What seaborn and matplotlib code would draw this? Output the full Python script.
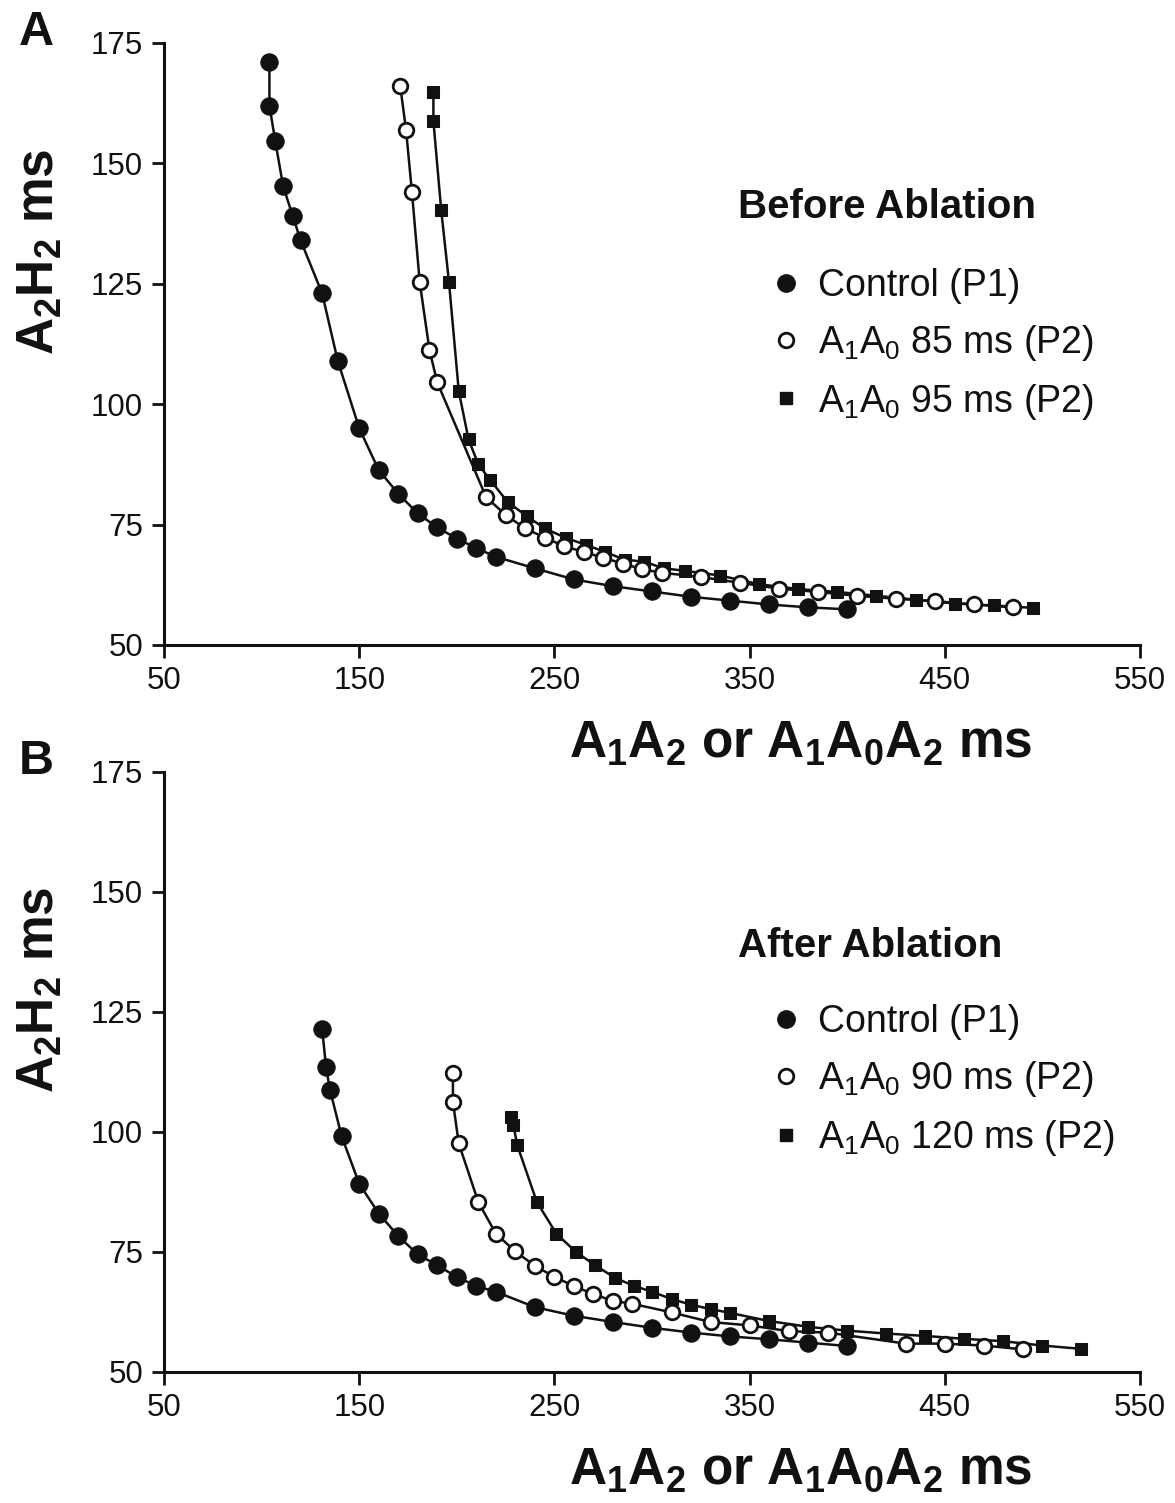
import matplotlib
matplotlib.use('Agg')
import matplotlib.pyplot as plt
import seaborn as sns
from matplotlib.lines import Line2D

# Panel A - before ablation
a_ctrl_x = [104, 104, 107, 111, 116, 120, 131, 139, 150, 160, 170, 180, 190, 200,
            210, 220, 240, 260, 280, 300, 320, 340, 360, 380, 400]
a_ctrl_y = [171.0, 162.0, 154.6, 145.3, 139.0, 134.0, 123.0, 109.0, 95.0, 86.3, 81.4,
            77.3, 74.4, 72.1, 70.1, 68.3, 65.9, 63.6, 62.2, 61.1, 60.0, 59.2, 58.4, 57.8, 57.4]
a_85_x = [171, 174, 177, 181, 186, 190, 215, 225, 235, 245, 255, 265, 275, 285, 295,
          305, 325, 345, 365, 385, 405, 425, 445, 465, 485]
a_85_y = [166.1, 156.9, 144.1, 125.3, 111.2, 104.5, 80.7, 77.0, 74.2, 72.3, 70.5, 69.3,
          68.1, 66.9, 65.7, 65.0, 64.1, 62.9, 61.7, 61.0, 60.2, 59.6, 59.1, 58.4, 57.8]
a_95_x = [188, 188, 192, 196, 201, 206, 211, 217, 226, 236, 245, 256, 266, 276, 286,
          296, 306, 317, 335, 355, 375, 395, 415, 435, 455, 475, 495]
a_95_y = [164.8, 158.8, 140.3, 125.3, 102.7, 92.7, 87.5, 84.3, 79.7, 76.7, 74.2, 72.2,
          70.8, 69.3, 67.7, 67.3, 65.9, 65.4, 64.4, 62.6, 61.6, 61.0, 60.2, 59.4, 58.6,
          58.2, 57.7]

# Panel B - after ablation
b_ctrl_x = [131, 133, 135, 141, 150, 160, 170, 180, 190, 200, 210, 220, 240, 260,
            280, 300, 320, 340, 360, 380, 400]
b_ctrl_y = [121.5, 113.5, 108.8, 99.1, 89.2, 83.0, 78.3, 74.5, 72.2, 69.8, 67.9, 66.7,
            63.5, 61.7, 60.4, 59.2, 58.2, 57.4, 56.8, 56.1, 55.4]
b_90_x = [198, 198, 201, 211, 220, 230, 240, 250, 260, 270, 280, 290, 310, 330, 350,
          370, 390, 430, 450, 470, 490]
b_90_y = [112.2, 106.3, 97.6, 85.4, 78.8, 75.1, 72.1, 69.8, 67.9, 66.2, 64.8, 64.2,
          62.4, 60.4, 59.7, 58.5, 58.2, 55.9, 55.9, 55.5, 54.7]
b_120_x = [228, 229, 231, 241, 251, 261, 271, 281, 291, 300, 310, 320, 330, 340, 360,
           380, 400, 420, 440, 460, 480, 500, 520]
b_120_y = [103.1, 101.4, 97.2, 85.4, 78.8, 75.0, 72.2, 69.6, 67.9, 66.7, 65.2, 64.0,
           63.1, 62.3, 60.6, 59.4, 58.6, 58.0, 57.5, 56.9, 56.4, 55.5, 54.8]

x_ticks = [50, 150, 250, 350, 450, 550]
y_ticks = [50, 75, 100, 125, 150, 175]

sns.set_style('ticks')
plt.rcParams['font.family'] = ['Liberation Sans', 'DejaVu Sans']
plt.rcParams['mathtext.fontset'] = 'custom'
plt.rcParams['mathtext.rm'] = 'Liberation Sans'
plt.rcParams['mathtext.it'] = 'Liberation Sans:italic'
plt.rcParams['mathtext.bf'] = 'Liberation Sans:bold'

ink = '#111111'
ctrl_style = dict(marker='o', markersize=12.5, markerfacecolor=ink, markeredgecolor=ink)
open_style = dict(marker='o', markersize=10.5, markerfacecolor='white', markeredgecolor=ink,
                  markeredgewidth=2)
sq_style = dict(marker='s', markersize=9, markerfacecolor=ink, markeredgecolor=ink)

fig = plt.figure(figsize=(11.75, 15.03), dpi=100)
ax_a = fig.add_axes([0.1396, 0.5709, 0.8306, 0.4005])
ax_b = fig.add_axes([0.1396, 0.0872, 0.8306, 0.3992])

panels = [
    (ax_a, 'A', 'Before Ablation',
     [(a_95_x, a_95_y, sq_style), (a_85_x, a_85_y, open_style), (a_ctrl_x, a_ctrl_y, ctrl_style)],
     ['Control (P1)', r'$\mathrm{A_1A_0}$ 85 ms (P2)', r'$\mathrm{A_1A_0}$ 95 ms (P2)'],
     0.653, 0.727, 0.626),
    (ax_b, 'B', 'After Ablation',
     [(b_120_x, b_120_y, sq_style), (b_90_x, b_90_y, open_style), (b_ctrl_x, b_ctrl_y, ctrl_style)],
     ['Control (P1)', r'$\mathrm{A_1A_0}$ 90 ms (P2)', r'$\mathrm{A_1A_0}$ 120 ms (P2)'],
     0.637, 0.710, 0.613),
]

for ax, letter, title, series, labels, ylab_pos, title_y, leg_y in panels:
    for xs, ys, st in series:
        sns.lineplot(x=xs, y=ys, ax=ax, color=ink, lw=1.8, sort=False, estimator=None,
                     clip_on=False, **st)
    ax.set_xlim(50, 550)
    ax.set_ylim(50, 175)
    ax.set_xticks(x_ticks)
    ax.set_yticks(y_ticks)
    ax.tick_params(axis='both', direction='out', length=9, width=2, labelsize=22.5,
                   colors=ink, pad=6)
    sns.despine(ax=ax)
    for s in ['left', 'bottom']:
        ax.spines[s].set_linewidth(2.2)
        ax.spines[s].set_color(ink)

    ax.set_ylabel(r'$\mathbf{A_2H_2}$ ms', fontsize=37, fontweight='bold', color=ink)
    ax.yaxis.set_label_coords(-0.127, ylab_pos)
    ax.yaxis.label.set_va('center')
    ax.set_xlabel(r'$\mathbf{A_1A_2}$ or $\mathbf{A_1A_0A_2}$ ms', fontsize=37,
                  fontweight='bold', color=ink)
    ax.xaxis.set_label_coords(0.652, -0.163)
    ax.xaxis.label.set_va('center')

    ax.text(0.588, title_y, title, transform=ax.transAxes, fontsize=29,
            fontweight='bold', color=ink, ha='left', va='center')
    handles = [Line2D([], [], ls='none', **ctrl_style),
               Line2D([], [], ls='none', **open_style),
               Line2D([], [], ls='none', **sq_style)]
    ax.legend(handles, labels, loc='upper left', bbox_to_anchor=(0.626, leg_y),
              frameon=False, fontsize=27, handlelength=0.6, handletextpad=0.55,
              labelspacing=0.5, borderpad=0, borderaxespad=0, labelcolor=ink)

    # panel letter, baseline just above the top tick
    ax.text(-0.131, 0.997, letter, transform=ax.transAxes, fontsize=35,
            fontweight='heavy', color=ink, ha='center', va='baseline')

fig.savefig('out.png', dpi=100, facecolor='white')
